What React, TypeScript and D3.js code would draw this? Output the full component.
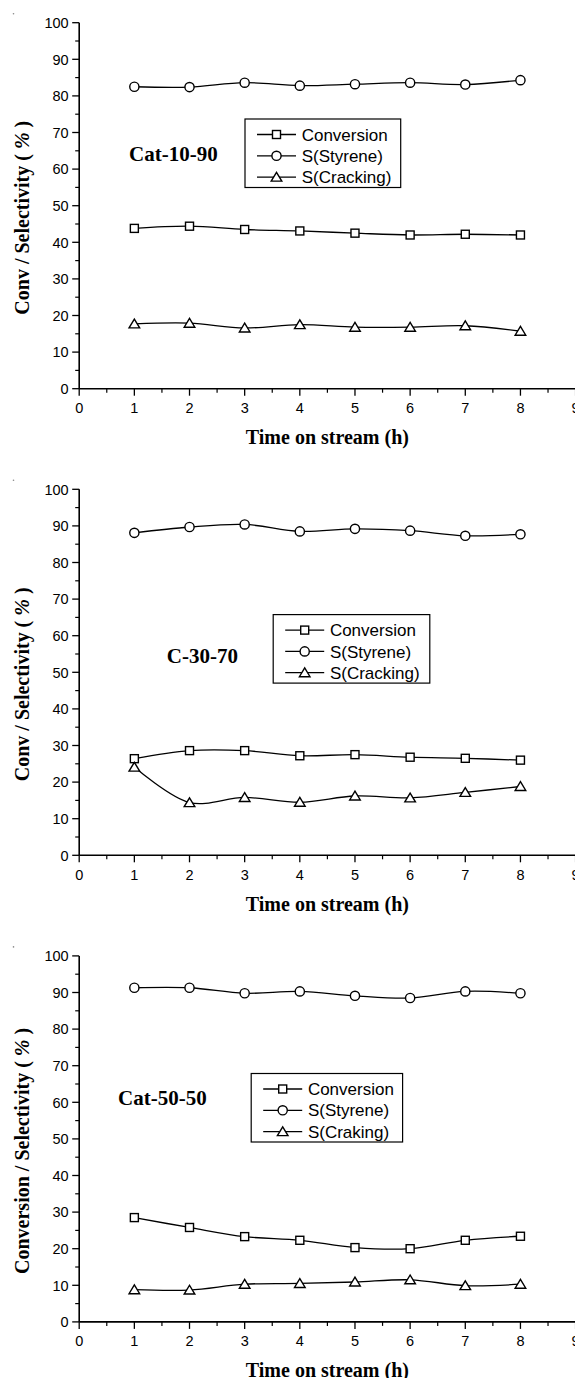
import React from "react";
import * as d3 from "d3";

// Time on stream (h)
const hours = [1, 2, 3, 4, 5, 6, 7, 8];
const xTickValues = [0, 1, 2, 3, 4, 5, 6, 7, 8, 9];
const yTickValues = [0, 10, 20, 30, 40, 50, 60, 70, 80, 90, 100];

// Cat-10-90
const conv1090 = [43.8, 44.4, 43.5, 43.1, 42.5, 42.0, 42.2, 42.0];
const styr1090 = [82.5, 82.4, 83.6, 82.8, 83.2, 83.6, 83.1, 84.3];
const crack1090 = [17.7, 17.9, 16.6, 17.5, 16.8, 16.8, 17.2, 15.7];

// C-30-70
const conv3070 = [26.4, 28.6, 28.6, 27.2, 27.5, 26.8, 26.5, 26.0];
const styr3070 = [88.1, 89.7, 90.4, 88.5, 89.2, 88.7, 87.3, 87.7];
const crack3070 = [24.1, 14.4, 15.8, 14.5, 16.2, 15.7, 17.2, 18.8];

// Cat-50-50
const conv5050 = [28.5, 25.8, 23.3, 22.3, 20.3, 20.0, 22.3, 23.4];
const styr5050 = [91.3, 91.3, 89.8, 90.3, 89.1, 88.5, 90.3, 89.8];
const crack5050 = [8.8, 8.7, 10.3, 10.5, 10.9, 11.5, 9.9, 10.3];

const panelNames = ["Cat-10-90", "C-30-70", "Cat-50-50"];
const yTitles = ["Conv / Selectivity", "Conv / Selectivity", "Conversion / Selectivity"];
const legendSets = [
  ["Conversion", "S(Styrene)", "S(Cracking)"],
  ["Conversion", "S(Styrene)", "S(Cracking)"],
  ["Conversion", "S(Styrene)", "S(Craking)"],
];
const panelSeries = [
  [conv1090, styr1090, crack1090],
  [conv3070, styr3070, crack3070],
  [conv5050, styr5050, crack5050],
];

type Shape = "square" | "circle" | "triangle";
const shapes: Shape[] = ["square", "circle", "triangle"];

// layout
const W = 575;
const H = 1378;
const X0 = 79.2;
const X1 = 575.6;
const PANEL_TOP = 22.7;
const PANEL_STEP = 466.6;
const PLOT_H = 366;
const layout = [
  { legendX: 245, legendY: 96.3, legendW: 155.7, nameX: 129, nameY: 131.3, titleDy: 0 },
  { legendX: 273.2, legendY: 125.3, legendW: 156.6, nameX: 166.8, nameY: 166.7, titleDy: 0 },
  { legendX: 251.2, legendY: 117.6, legendW: 151.4, nameX: 118, nameY: 142, titleDy: 0 },
];

const serif = "'Liberation Serif', 'Times New Roman', serif";
const sans = "'Liberation Sans', Arial, sans-serif";

function Marker({ shape, x, y }: { shape: Shape; x: number; y: number }) {
  const common = { fill: "#fff", stroke: "#000", strokeWidth: 1.4 };
  if (shape === "circle") return <circle cx={x} cy={y} r={4.6} {...common} />;
  if (shape === "square") return <rect x={x - 4} y={y - 4} width={8} height={8} {...common} />;
  const p = `${x},${y - 4.8} ${x + 5.3},${y + 4} ${x - 5.3},${y + 4}`;
  return <polygon points={p} {...common} />;
}

function Panel({ index }: { index: number }) {
  const top = PANEL_TOP + index * PANEL_STEP;
  const bottom = top + PLOT_H;
  const lay = layout[index];
  const x = d3.scaleLinear().domain([0, 9]).range([X0, X1]);
  const y = d3.scaleLinear().domain([0, 100]).range([bottom, top]);
  const line = d3
    .line<number>()
    .x((_, i) => x(hours[i]))
    .y((d) => y(d))
    .curve(d3.curveCatmullRom.alpha(0.5));

  const xMinor = d3.range(0.5, 9, 1);
  const yMinor = d3.range(5, 100, 10);
  const midY = (top + bottom) / 2 + 12;

  return (
    <g>
      {/* stray dot in the corner */}
      <circle cx={13.5} cy={bottom - 375} r={0.8} fill="#888" />

      {/* axes */}
      <line x1={X0} x2={X0} y1={top} y2={bottom} stroke="#000" strokeWidth={1.6} />
      <line x1={X0} x2={X1 + 2} y1={bottom} y2={bottom} stroke="#000" strokeWidth={1.6} />

      {yTickValues.map((v) => (
        <g key={"yt" + v}>
          <line x1={X0 - 7} x2={X0} y1={y(v)} y2={y(v)} stroke="#000" strokeWidth={1.3} />
          <text
            x={X0 - 10.5}
            y={y(v)}
            dy="0.36em"
            textAnchor="end"
            fontFamily={sans}
            fontSize={14.5}
            fill="#000"
          >
            {v}
          </text>
        </g>
      ))}
      {yMinor.map((v) => (
        <line key={"ym" + v} x1={X0 - 4} x2={X0} y1={y(v)} y2={y(v)} stroke="#000" strokeWidth={1.2} />
      ))}

      {xTickValues.map((v) => (
        <g key={"xt" + v}>
          <line x1={x(v)} x2={x(v)} y1={bottom} y2={bottom + 7} stroke="#000" strokeWidth={1.3} />
          <text
            x={x(v)}
            y={bottom + 19}
            dy="0.36em"
            textAnchor="middle"
            fontFamily={sans}
            fontSize={14.5}
            fill="#000"
          >
            {v}
          </text>
        </g>
      ))}
      {xMinor.map((v) => (
        <line key={"xm" + v} x1={x(v)} x2={x(v)} y1={bottom} y2={bottom + 4} stroke="#000" strokeWidth={1.2} />
      ))}

      {/* axis titles */}
      <text
        x={(X0 + X1) / 2}
        y={bottom + 48.5}
        dy="0.35em"
        textAnchor="middle"
        fontFamily={serif}
        fontWeight="bold"
        fontSize={20}
        fill="#000"
      >
        Time on stream (h)
      </text>
      <text
        transform={`translate(22,${midY}) rotate(-90)`}
        dy="0.35em"
        textAnchor="middle"
        fontFamily={serif}
        fontWeight="bold"
        fontSize={20}
        fill="#000"
      >
        {yTitles[index]} (<tspan fontStyle="italic"> % </tspan>)
      </text>

      {/* series */}
      {panelSeries[index].map((vals, si) => (
        <g key={"s" + si}>
          <path d={line(vals) || ""} fill="none" stroke="#000" strokeWidth={1.3} />
          {vals.map((v, i) => (
            <Marker key={i} shape={shapes[si]} x={x(hours[i])} y={y(v)} />
          ))}
        </g>
      ))}

      {/* catalyst name */}
      <text
        x={lay.nameX}
        y={top + lay.nameY}
        dy="0.35em"
        fontFamily={serif}
        fontWeight="bold"
        fontSize={21}
        fill="#000"
      >
        {panelNames[index]}
      </text>

      {/* legend */}
      <g transform={`translate(${lay.legendX},${top + lay.legendY})`}>
        <rect x={0} y={0} width={lay.legendW} height={68.5} fill="#fff" stroke="#000" strokeWidth={1.2} />
        {legendSets[index].map((label, i) => {
          const ry = 15.5 + i * 21.3;
          return (
            <g key={label}>
              <line x1={12} x2={51} y1={ry} y2={ry} stroke="#000" strokeWidth={1.3} />
              <Marker shape={shapes[i]} x={31.5} y={ry} />
              <text x={56.7} y={ry} dy="0.36em" fontFamily={sans} fontSize={17} fill="#000">
                {label}
              </text>
            </g>
          );
        })}
      </g>
    </g>
  );
}

export default function App() {
  return (
    <svg
      width={W}
      height={H}
      viewBox={`0 0 ${W} ${H}`}
      style={{ position: "absolute", left: 0, top: 0, background: "#fff" }}
    >
      <rect width={W} height={H} fill="#fff" />
      {[0, 1, 2].map((i) => (
        <Panel key={i} index={i} />
      ))}
    </svg>
  );
}
